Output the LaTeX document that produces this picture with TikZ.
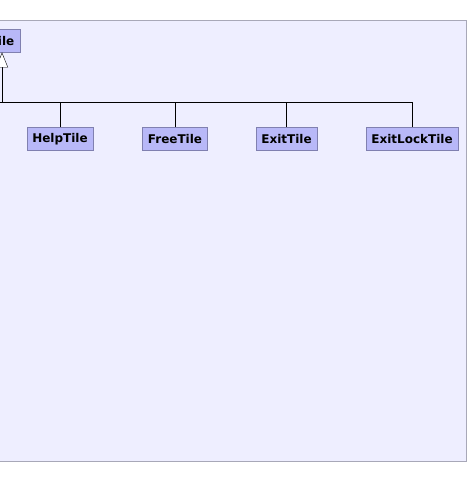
\documentclass[tikz,border=0pt]{standalone}
\usepackage{fontspec}
\newfontfamily\tilefont{DejaVu Sans}
\usetikzlibrary{arrows.meta}

\definecolor{paneback}{RGB}{238,238,255}
\definecolor{paneline}{RGB}{168,168,184}
\definecolor{tilefill}{RGB}{184,184,248}
\definecolor{tileline}{RGB}{128,128,176}

\tikzset{
  tilebox/.style={draw=tileline, fill=tilefill, inner xsep=5.5pt, inner ysep=0pt,
    minimum height=23pt, font=\tilefont\bfseries\fontsize{12}{14}\selectfont},
  inherit/.style={-{Triangle[fill=white, length=15pt, width=12pt]}}
}

\begin{document}
\begin{tikzpicture}[x=1pt, y=-1pt]
    \useasboundingbox (0,0) rectangle (469,499);
    \clip (0,0) rectangle (469,499);

    % Package frame
    \draw[paneline, fill=paneback] (-10,20.5) rectangle (466,461);

    % Classes
    \node[tilebox, anchor=north east] (tile) at (20,29) {Tile};
    \node[tilebox, anchor=north] (help) at (60,127) {HelpTile};
    \node[tilebox, anchor=north] (free) at (175,127) {FreeTile};
    \node[tilebox, anchor=north] (exit) at (286.5,127) {ExitTile};
    \node[tilebox, anchor=north] (exitlock) at (412,127) {ExitLockTile};

    % Generalisation
    \coordinate (bus) at (-10,102);
    \draw[inherit] (tile.south |- bus) -- (tile.south);
    \draw (bus) -- (bus -| exitlock.north);
    \draw (help.north) -- (help.north |- bus);
    \draw (free.north) -- (free.north |- bus);
    \draw (exit.north) -- (exit.north |- bus);
    \draw (exitlock.north) -- (exitlock.north |- bus);
\end{tikzpicture}
\end{document}
